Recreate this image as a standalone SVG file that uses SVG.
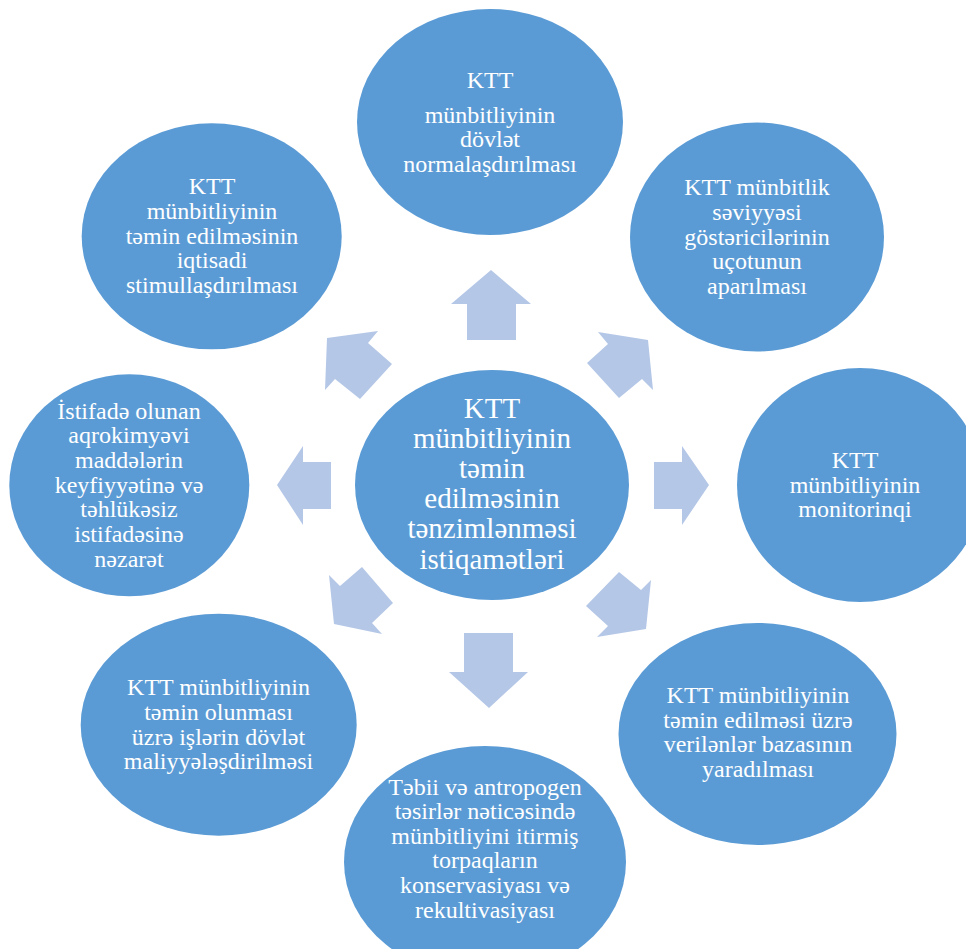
<svg xmlns="http://www.w3.org/2000/svg" width="966" height="949" viewBox="0 0 966 949">
<style>
.node{fill:#5B9BD5;}
.arr{fill:#B4C7E7;}
text{font-family:"Liberation Serif","DejaVu Serif",serif;fill:#FFFFFF;text-anchor:middle;font-size:24px;}
.big{font-size:29px;}
</style>
<rect width="966" height="949" fill="#FFFFFF"/>
<g id="connectors">
<polygon class="arr" points="491,270 531,304 516,304 516,340 467,340 467,304 451,304"/>
<polygon class="arr" points="464,633 513,633 513,672 528,672 489,708 449,672 464,672"/>
<polygon class="arr" points="277,485 303,446 303,462 331,462 331,509 303,509 303,525"/>
<polygon class="arr" points="654,462 682,462 682,446 709,485 682,525 682,509 654,509"/>
<polygon class="arr" points="327,338 378,331 368,343 392,364 360,399 335,379 325,390"/>
<polygon class="arr" points="598,332 648,340 653,390 642,379 619,398 587,363 608,344"/>
<polygon class="arr" points="329,575 340,586 362,567 393,603 372,623 382,634 334,624"/>
<polygon class="arr" points="619,572 641,590 651,580 646,629 597,637 608,626 586,606"/>
</g>
<g id="center">
<ellipse class="node" cx="492" cy="485" rx="137" ry="115"/>
<text class="big" x="492" y="418">KTT</text>
<text class="big" x="492" y="448">münbitliyinin</text>
<text class="big" x="492" y="478">təmin</text>
<text class="big" x="492" y="508">edilməsinin</text>
<text class="big" x="492" y="538">tənzimlənməsi</text>
<text class="big" x="492" y="569">istiqamətləri</text>
</g>
<g id="top">
<ellipse class="node" cx="490" cy="122" rx="133" ry="113"/>
<text x="490" y="88">KTT</text>
<text x="490" y="123">münbitliyinin</text>
<text x="490" y="147">dövlət</text>
<text x="490" y="172">normalaşdırılması</text>
</g>
<g id="top-right">
<ellipse class="node" cx="757" cy="237" rx="127" ry="114.5"/>
<text x="757" y="195">KTT münbitlik</text>
<text x="757" y="220">səviyyəsi</text>
<text x="757" y="245">göstəricilərinin</text>
<text x="757" y="269">uçotunun</text>
<text x="757" y="294">aparılması</text>
</g>
<g id="right">
<ellipse class="node" cx="860" cy="485" rx="123" ry="117"/>
<text x="855" y="468">KTT</text>
<text x="855" y="493">münbitliyinin</text>
<text x="855" y="517">monitorinqi</text>
</g>
<g id="bottom-right">
<ellipse class="node" cx="757.5" cy="734" rx="139" ry="111"/>
<text x="758" y="703">KTT münbitliyinin</text>
<text x="758" y="727.5">təmin edilməsi üzrə</text>
<text x="758" y="752">verilənlər bazasının</text>
<text x="758" y="776.5">yaradılması</text>
</g>
<g id="bottom">
<ellipse class="node" cx="485" cy="862" rx="141" ry="116"/>
<text x="485" y="795">Təbii və antropogen</text>
<text x="485" y="819">təsirlər nəticəsində</text>
<text x="485" y="843.5">münbitliyini itirmiş</text>
<text x="485" y="868">torpaqların</text>
<text x="485" y="893">konservasiyası və</text>
<text x="485" y="918">rekultivasiyası</text>
</g>
<g id="bottom-left">
<ellipse class="node" cx="218.7" cy="724.7" rx="138" ry="111"/>
<text x="218.5" y="695">KTT münbitliyinin</text>
<text x="218.5" y="720">təmin olunması</text>
<text x="218.5" y="745">üzrə işlərin dövlət</text>
<text x="218.5" y="769">maliyyələşdirilməsi</text>
</g>
<g id="left">
<ellipse class="node" cx="129.3" cy="485.3" rx="120" ry="111"/>
<text x="129" y="419">İstifadə olunan</text>
<text x="129" y="443">aqrokimyəvi</text>
<text x="129" y="468">maddələrin</text>
<text x="129" y="493">keyfiyyətinə və</text>
<text x="129" y="517">təhlükəsiz</text>
<text x="129" y="542">istifadəsinə</text>
<text x="129" y="567">nəzarət</text>
</g>
<g id="top-left">
<ellipse class="node" cx="211.7" cy="236.3" rx="130" ry="113"/>
<text x="212" y="194">KTT</text>
<text x="212" y="219">münbitliyinin</text>
<text x="212" y="244">təmin edilməsinin</text>
<text x="212" y="268">iqtisadi</text>
<text x="212" y="293">stimullaşdırılması</text>
</g>
</svg>
